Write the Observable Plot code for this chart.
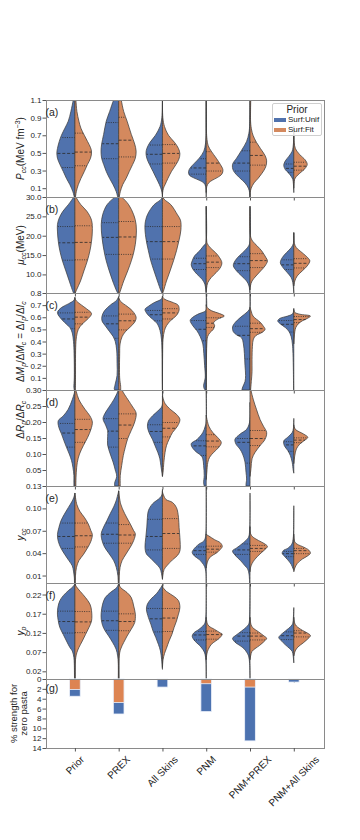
<!DOCTYPE html>
<html><head><meta charset="utf-8">
<script src="https://cdn.jsdelivr.net/npm/d3@7"></script>
<script src="https://cdn.jsdelivr.net/npm/@observablehq/plot@0.6"></script>
<style>
body{margin:0;background:#fff;}
#chart{position:relative;width:360px;height:840px;font-family:"Liberation Sans",Arial,Helvetica,sans-serif;}
#chart svg{display:block;overflow:visible;}
.legend{position:absolute;left:272px;top:103px;width:48px;height:31px;border:1px solid #cfcfcf;border-radius:2px;background:rgba(255,255,255,0.85);color:#222;}
.legend .lt{font-size:10px;line-height:10px;text-align:center;margin-top:1px;}
.legend .li{font-size:8px;line-height:10px;white-space:nowrap;display:flex;align-items:center;}
.legend .sw{display:inline-block;width:12px;height:3.5px;margin:0 2px 0 1px;}
</style></head>
<body><div id="chart"></div>
<script>
const categories = ["Prior", "PREX", "All Skins", "PNM", "PNM+PREX", "PNM+All Skins"];
const priors = ["Surf:Unif", "Surf:Fit"];

// (a) P_cc : violin half profiles [value, relative density] per category
const pccUnif = [
  [[1.12,0.06],[1.1,.08],[0.97,.2],[0.86,.33],[0.78,.5],[0.7,.67],[0.63,.78],[0.55,.87],[0.5,.9],[0.44,.87],[0.37,.75],[0.29,.58],[0.21,.42],[0.14,.25],[0.06,.1],[0,.03]],
  [[1.12,.2],[1.1,.25],[0.97,.45],[0.86,.62],[0.71,.75],[0.6,.85],[0.52,.88],[0.44,.85],[0.37,.75],[0.29,.62],[0.21,.45],[0.14,.28],[0.06,.12],[0,.05]],
  [[1.12,0],[0.9,.03],[0.8,.12],[0.7,.35],[0.62,.62],[0.55,.78],[0.5,.82],[0.44,.78],[0.37,.65],[0.29,.47],[0.21,.3],[0.14,.15],[0.08,.05],[0.03,.01],[0,0]],
  [[1.12,0],[0.7,.01],[0.6,.04],[0.52,.12],[0.44,.35],[0.38,.6],[0.33,.8],[0.29,.88],[0.25,.85],[0.22,.65],[0.19,.35],[0.16,.12],[0.12,.03],[0,0]],
  [[1.12,0],[0.8,.02],[0.72,.06],[0.63,.17],[0.53,.42],[0.44,.67],[0.37,.87],[0.3,.83],[0.22,.53],[0.16,.25],[0.1,.08],[0.05,.02],[0,0]],
  [[0.8,0],[0.6,.02],[0.52,.08],[0.46,.25],[0.41,.42],[0.36,.5],[0.31,.42],[0.27,.25],[0.23,.12],[0.2,.05],[0.15,.02],[0.05,0]]
];
const pccFit = [
  [[1.12,.04],[1.1,.05],[0.97,.1],[0.86,.2],[0.78,.3],[0.7,.47],[0.63,.63],[0.56,.78],[0.51,.83],[0.44,.78],[0.37,.63],[0.29,.47],[0.21,.3],[0.14,.17],[0.06,.07],[0,.03]],
  [[1.12,.12],[1.1,.13],[0.97,.25],[0.86,.42],[0.71,.63],[0.6,.8],[0.52,.87],[0.44,.83],[0.37,.7],[0.29,.53],[0.21,.37],[0.14,.2],[0.06,.08],[0,.03]],
  [[1.12,0],[0.9,.02],[0.8,.1],[0.7,.3],[0.62,.6],[0.55,.8],[0.49,.87],[0.43,.82],[0.37,.68],[0.29,.45],[0.21,.27],[0.14,.13],[0.1,.05],[0.05,.01],[0,0]],
  [[1.12,0],[0.75,.01],[0.65,.04],[0.58,.1],[0.52,.25],[0.44,.5],[0.37,.7],[0.31,.83],[0.26,.78],[0.22,.55],[0.19,.3],[0.16,.12],[0.12,.03],[0.05,0]],
  [[1.12,.04],[0.85,.03],[0.76,.08],[0.7,.15],[0.62,.32],[0.55,.52],[0.47,.75],[0.41,.83],[0.34,.78],[0.27,.6],[0.21,.4],[0.16,.2],[0.1,.06],[0.05,.01],[0,0]],
  [[0.8,0],[0.62,.02],[0.55,.08],[0.48,.3],[0.42,.57],[0.37,.67],[0.32,.55],[0.27,.3],[0.23,.12],[0.2,.04],[0.15,.01],[0.1,0]]
];
const pccQuartUnif = [[0.34,0.50,0.68],[0.44,0.61,0.85],[0.38,0.49,0.595],[0.265,0.335,0.44],[0.30,0.39,0.53],[0.285,0.33,0.38]];
const pccQuartFit = [[0.36,0.515,0.73],[0.46,0.65,0.91],[0.39,0.50,0.60],[0.30,0.39,0.52],[0.367,0.477,0.627],[0.31,0.355,0.40]];

// (b) mu_cc
const muUnif = [
  [[30.6,0],[29.9,.07],[28,.33],[26.3,.6],[24.6,.78],[22.9,.87],[21.2,.87],[18.6,.83],[16.1,.75],[13.5,.62],[10.9,.45],[8.3,.28],[6.6,.17],[5.2,.07],[4.5,0]],
  [[30.5,0],[29.9,.2],[28,.58],[25.4,.8],[22.9,.87],[19.5,.83],[16.1,.73],[13.5,.62],[10.9,.47],[8.3,.3],[5.7,.1],[5,.03]],
  [[30.5,0],[29.5,.05],[28,.42],[25.4,.75],[22.9,.87],[19.5,.83],[16.1,.7],[13.5,.58],[10.9,.42],[8.3,.25],[5.7,.07],[5,0]],
  [[27.5,0],[18,.02],[17.7,.08],[16.1,.33],[14.8,.58],[13.5,.7],[12.5,.75],[11.4,.67],[10.1,.47],[8.7,.2],[7.5,.07],[6,.02],[5,.01]],
  [[27.5,0],[18,.02],[16.9,.13],[15.6,.37],[14.3,.63],[13,.8],[12.2,.83],[10.9,.67],[9.6,.42],[8.3,.17],[7,.05],[5.5,.01],[5,0]],
  [[20.7,0],[18,.02],[16.9,.13],[15.6,.37],[14.3,.58],[13,.67],[11.7,.53],[10.5,.33],[9.2,.13],[7.9,.05],[6,.01],[5,0]]
];
const muFit = [
  [[30.6,0],[29.9,.06],[28,.3],[26.3,.6],[24,.83],[21.2,.87],[18.6,.83],[16.1,.75],[13.5,.62],[10.9,.45],[8.3,.28],[6.2,.1],[5,0]],
  [[30.5,0],[29.9,.17],[28,.5],[25.4,.75],[22.9,.87],[19.5,.87],[16.1,.77],[13.5,.63],[10.9,.45],[8.3,.25],[5.7,.08],[5,.03]],
  [[30.5,0],[29.5,.07],[28,.42],[25.4,.75],[24,.9],[21.5,.92],[18.9,.83],[16.1,.7],[13.5,.55],[10.9,.38],[8.3,.2],[5.7,.05],[5,0]],
  [[27.5,0],[19,.02],[18,.05],[16.9,.2],[15.6,.47],[14.3,.67],[13,.78],[11.7,.7],[10.5,.5],[9.2,.25],[7.9,.08],[6.5,.02],[5.5,0]],
  [[27.5,0],[20,.02],[18.6,.13],[17.3,.37],[16.1,.58],[14.3,.8],[13.5,.87],[12.2,.75],[10.9,.53],[9.6,.3],[8.3,.1],[7,.02],[6,0]],
  [[20.7,0],[18,.03],[16.9,.13],[15.6,.42],[14.3,.7],[13.5,.8],[12.2,.67],[10.9,.42],[9.6,.17],[8.3,.05],[7,0]]
];
const muQuartUnif = [[13.8,18.3,22.5],[15.3,19.7,23.5],[14.1,18.6,22.5],[11.4,12.9,14.3],[11.1,12.9,14.7],[11.4,12.6,13.9]];
const muQuartFit = [[13.9,18.4,22.7],[15.3,19.8,23.8],[14.1,18.6,22.5],[11.9,13.3,14.9],[11.9,13.7,15.5],[11.8,13.0,14.2]];

// (c) dM_p/dM_c
const dmUnif = [
  [[0.76,0],[0.74,.05],[0.71,.33],[0.68,.67],[0.64,.87],[0.6,.75],[0.555,.5],[0.515,.25],[0.47,.13],[0.4,.07],[0.3,.04],[0.1,.03],[0.02,.05],[0,.03]],
  [[0.77,0],[0.74,.1],[0.7,.42],[0.655,.7],[0.61,.83],[0.57,.83],[0.53,.67],[0.485,.47],[0.44,.27],[0.4,.17],[0.33,.1],[0.22,.08],[0.12,.08],[0.05,.17],[0.01,.22],[0,.2]],
  [[0.77,0],[0.75,.05],[0.72,.42],[0.69,.7],[0.665,.87],[0.625,.75],[0.585,.5],[0.545,.25],[0.49,.12],[0.42,.05],[0.3,.02],[0.1,.01],[0,0]],
  [[0.8,0],[0.66,0],[0.645,.1],[0.63,.35],[0.6,.67],[0.575,.8],[0.53,.67],[0.49,.47],[0.44,.3],[0.38,.17],[0.3,.12],[0.2,.08],[0.1,.05],[0.04,.13],[0.01,.1],[0,.05]],
  [[0.8,0],[0.68,0],[0.66,.05],[0.635,.2],[0.595,.5],[0.555,.75],[0.52,.87],[0.48,.83],[0.455,.67],[0.43,.42],[0.38,.33],[0.3,.28],[0.2,.25],[0.12,.22],[0.07,.25],[0.03,.35],[0.005,.4],[0,.4]],
  [[0.67,0],[0.63,.05],[0.61,.3],[0.59,.7],[0.57,.8],[0.545,.67],[0.515,.42],[0.485,.25],[0.44,.13],[0.38,.07],[0.3,.04],[0.15,.02],[0,.01]]
];
const dmFit = [
  [[0.76,0],[0.74,.05],[0.71,.25],[0.67,.58],[0.63,.83],[0.59,.67],[0.545,.37],[0.5,.17],[0.44,.08],[0.35,.04],[0.1,.03],[0,.02]],
  [[0.76,0],[0.73,.1],[0.69,.42],[0.65,.7],[0.6,.87],[0.56,.8],[0.52,.58],[0.48,.33],[0.44,.17],[0.38,.07],[0.3,.05],[0.1,.05],[0.03,.1],[0,.1]],
  [[0.77,0],[0.75,.1],[0.72,.55],[0.7,.78],[0.66,.83],[0.615,.7],[0.575,.42],[0.53,.2],[0.49,.1],[0.42,.03],[0.3,.01],[0,0]],
  [[0.7,0],[0.68,.05],[0.655,.25],[0.63,.67],[0.61,.9],[0.585,.58],[0.555,.37],[0.53,.42],[0.5,.35],[0.47,.17],[0.44,.07],[0.38,.03],[0.2,.01],[0,0]],
  [[0.68,0],[0.655,.05],[0.61,.15],[0.56,.5],[0.53,.65],[0.5,.75],[0.475,.6],[0.45,.3],[0.42,.17],[0.36,.12],[0.25,.1],[0.15,.1],[0.08,.07],[0,.03]],
  [[0.66,0],[0.64,.05],[0.625,.3],[0.61,.83],[0.59,.67],[0.57,.42],[0.545,.22],[0.515,.1],[0.48,.05],[0.43,.02],[0.38,0]]
];
const dmQuartUnif = [[0.51,0.59,0.64],[0.43,0.55,0.615],[0.575,0.625,0.66],[0.41,0.505,0.577],[0.26,0.455,0.53],[0.482,0.546,0.577]];
const dmQuartFit = [[0.55,0.605,0.645],[0.50,0.575,0.63],[0.59,0.64,0.675],[0.52,0.555,0.60],[0.48,0.51,0.555],[0.56,0.585,0.61]];

// (d) dR_p/dR_c
const drUnif = [
  [[0.3,0],[0.29,.03],[0.27,.13],[0.24,.33],[0.219,.58],[0.204,.83],[0.183,.8],[0.163,.67],[0.142,.55],[0.121,.42],[0.1,.28],[0.08,.17],[0.059,.1],[0.033,.05],[0.012,.05],[0,.05]],
  [[0.31,0],[0.295,.05],[0.269,.25],[0.245,.5],[0.225,.7],[0.21,.78],[0.19,.65],[0.173,.55],[0.155,.55],[0.128,.55],[0.1,.42],[0.075,.28],[0.05,.17],[0.03,.1],[0.01,.2],[0,.2]],
  [[0.3,0],[0.25,.02],[0.238,.17],[0.219,.5],[0.203,.7],[0.187,.75],[0.167,.67],[0.146,.5],[0.126,.37],[0.105,.23],[0.085,.13],[0.064,.08],[0.043,.03],[0.03,0]],
  [[0.3,0],[0.2,0],[0.187,.05],[0.167,.17],[0.146,.45],[0.132,.75],[0.118,.67],[0.105,.47],[0.095,.25],[0.085,.17],[0.064,.13],[0.033,.1],[0.01,.13],[0,.1]],
  [[0.26,0],[0.2,.02],[0.177,.17],[0.162,.5],[0.146,.75],[0.131,.7],[0.115,.5],[0.1,.37],[0.075,.25],[0.043,.2],[0.022,.17],[0.005,.2],[0,.2]],
  [[0.21,0],[0.18,.02],[0.167,.08],[0.151,.33],[0.141,.5],[0.126,.47],[0.111,.3],[0.095,.17],[0.074,.08],[0.05,.03],[0.04,0]]
];
const drFit = [
  [[0.31,.02],[0.295,.07],[0.27,.2],[0.24,.5],[0.219,.75],[0.2,.87],[0.177,.8],[0.151,.63],[0.126,.42],[0.1,.23],[0.074,.12],[0.043,.07],[0.01,.05],[0,.05]],
  [[0.31,.15],[0.3,.17],[0.269,.47],[0.247,.7],[0.228,.87],[0.2,.8],[0.174,.63],[0.148,.45],[0.121,.33],[0.095,.23],[0.064,.15],[0.033,.08],[0,.08]],
  [[0.28,0],[0.258,.13],[0.238,.42],[0.224,.7],[0.208,.87],[0.187,.75],[0.167,.5],[0.146,.33],[0.126,.2],[0.105,.13],[0.074,.07],[0.043,.03],[0.03,0]],
  [[0.22,0],[0.187,.13],[0.167,.33],[0.151,.58],[0.136,.75],[0.121,.63],[0.105,.37],[0.09,.17],[0.074,.08],[0.043,.03],[0.02,0]],
  [[0.31,.05],[0.3,.05],[0.269,.17],[0.238,.33],[0.208,.5],[0.187,.67],[0.167,.83],[0.146,.75],[0.126,.5],[0.105,.25],[0.085,.1],[0.055,.05],[0.03,0]],
  [[0.19,0],[0.177,.08],[0.162,.5],[0.152,.7],[0.141,.5],[0.131,.3],[0.116,.13],[0.095,.05],[0.07,0]]
];
const drQuartUnif = [[0.123,0.167,0.197],[0.123,0.173,0.212],[0.138,0.172,0.193],[0.097,0.127,0.143],[0.073,0.138,0.15],[0.11,0.13,0.14]];
const drQuartFit = [[0.138,0.178,0.21],[0.15,0.192,0.227],[0.155,0.182,0.20],[0.124,0.142,0.162],[0.128,0.15,0.175],[0.137,0.145,0.152]];

// (e) y_cc
const yccUnif = [
  [[0.12,0],[0.115,.05],[0.11,.13],[0.101,.33],[0.092,.53],[0.083,.7],[0.074,.8],[0.065,.87],[0.056,.83],[0.047,.7],[0.038,.5],[0.03,.3],[0.023,.13],[0.016,.07],[0.008,.03],[0,.02]],
  [[0.123,0],[0.11,.13],[0.102,.25],[0.093,.42],[0.084,.58],[0.075,.75],[0.066,.87],[0.057,.83],[0.048,.7],[0.039,.47],[0.03,.25],[0.021,.12],[0.01,.04],[0,.02]],
  [[0.125,0],[0.118,.03],[0.114,.13],[0.106,.5],[0.097,.7],[0.088,.75],[0.075,.78],[0.061,.83],[0.048,.87],[0.039,.8],[0.033,.58],[0.026,.33],[0.02,.13],[0.013,.05],[0.005,0]],
  [[0.13,0],[0.07,.01],[0.06,.05],[0.056,.13],[0.052,.37],[0.045,.63],[0.041,.7],[0.036,.58],[0.032,.37],[0.027,.2],[0.022,.08],[0.015,.02],[0,0]],
  [[0.12,0],[0.07,.02],[0.061,.08],[0.054,.33],[0.047,.67],[0.043,.87],[0.036,.7],[0.03,.47],[0.023,.25],[0.019,.12],[0.012,.05],[0,.02]],
  [[0.103,0],[0.07,.01],[0.06,.03],[0.052,.1],[0.046,.33],[0.044,.5],[0.04,.58],[0.036,.47],[0.031,.3],[0.025,.13],[0.02,.05],[0.017,0]]
];
const yccFit = [
  [[0.12,0],[0.105,.1],[0.096,.25],[0.088,.47],[0.079,.67],[0.07,.8],[0.065,.87],[0.056,.8],[0.047,.63],[0.038,.42],[0.03,.2],[0.021,.08],[0.01,.03],[0,.02]],
  [[0.123,0],[0.106,.1],[0.093,.3],[0.079,.58],[0.07,.75],[0.066,.83],[0.057,.75],[0.048,.58],[0.039,.37],[0.03,.17],[0.021,.07],[0.01,.03],[0,.02]],
  [[0.122,0],[0.118,.05],[0.112,.17],[0.108,.5],[0.101,.7],[0.088,.8],[0.074,.83],[0.061,.87],[0.043,.87],[0.037,.75],[0.031,.5],[0.024,.25],[0.018,.08],[0.01,.02],[0.005,0]],
  [[0.065,0],[0.063,.13],[0.058,.42],[0.054,.7],[0.049,.8],[0.045,.7],[0.04,.5],[0.036,.25],[0.031,.1],[0.025,.03],[0.02,0]],
  [[0.075,0],[0.066,.03],[0.062,.13],[0.057,.42],[0.053,.7],[0.049,.87],[0.045,.75],[0.039,.5],[0.032,.25],[0.026,.1],[0.02,.02],[0.015,0]],
  [[0.065,0],[0.055,.05],[0.052,.17],[0.048,.5],[0.044,.75],[0.04,.83],[0.036,.67],[0.032,.42],[0.026,.17],[0.02,.05],[0.015,0]]
];
const yccQuartUnif = [[0.047,0.063,0.081],[0.054,0.066,0.081],[0.045,0.063,0.086],[0.039,0.044,0.049],[0.039,0.045,0.053],[0.036,0.04,0.043]];
const yccQuartFit = [[0.049,0.064,0.081],[0.054,0.065,0.079],[0.047,0.067,0.087],[0.042,0.046,0.05],[0.043,0.047,0.051],[0.04,0.044,0.047]];

// (f) y_p
const ypUnif = [
  [[0.248,0],[0.24,.1],[0.23,.33],[0.217,.58],[0.204,.75],[0.186,.85],[0.169,.87],[0.152,.83],[0.134,.75],[0.116,.58],[0.099,.42],[0.082,.25],[0.073,.13],[0.056,.05],[0.04,.03],[0,.02]],
  [[0.248,0],[0.238,.1],[0.225,.42],[0.212,.67],[0.195,.8],[0.173,.87],[0.156,.87],[0.139,.8],[0.125,.67],[0.112,.5],[0.095,.3],[0.078,.13],[0.06,.05],[0.04,.02],[0,.02]],
  [[0.245,0],[0.235,.12],[0.222,.3],[0.208,.58],[0.195,.75],[0.182,.8],[0.16,.7],[0.143,.58],[0.125,.47],[0.108,.33],[0.09,.2],[0.073,.1],[0.05,.04],[0.03,.01],[0.025,0]],
  [[0.25,0],[0.16,.02],[0.145,.07],[0.138,.17],[0.129,.37],[0.12,.62],[0.112,.7],[0.103,.63],[0.094,.47],[0.086,.3],[0.077,.17],[0.068,.08],[0.05,.02],[0,0]],
  [[0.25,0],[0.16,.02],[0.145,.05],[0.138,.13],[0.125,.42],[0.114,.7],[0.106,.87],[0.096,.75],[0.087,.5],[0.079,.3],[0.07,.17],[0.06,.07],[0.04,.02],[0,0]],
  [[0.185,0],[0.16,.02],[0.145,.05],[0.138,.13],[0.125,.42],[0.114,.67],[0.108,.75],[0.1,.63],[0.089,.42],[0.079,.2],[0.072,.08],[0.06,.03],[0.042,0]]
];
const ypFit = [
  [[0.248,0],[0.24,.08],[0.228,.27],[0.212,.53],[0.195,.75],[0.178,.83],[0.151,.83],[0.134,.7],[0.116,.53],[0.099,.37],[0.082,.2],[0.069,.1],[0.05,.03],[0,.02]],
  [[0.248,0],[0.238,.1],[0.225,.42],[0.212,.63],[0.19,.75],[0.169,.83],[0.147,.8],[0.13,.63],[0.112,.42],[0.095,.25],[0.078,.1],[0.06,.03],[0,.02]],
  [[0.24,0],[0.228,.2],[0.215,.58],[0.204,.8],[0.186,.87],[0.169,.8],[0.151,.7],[0.134,.58],[0.116,.47],[0.099,.33],[0.08,.2],[0.066,.1],[0.05,.03],[0.03,0]],
  [[0.16,0],[0.145,.05],[0.138,.13],[0.129,.42],[0.12,.7],[0.117,.8],[0.107,.67],[0.099,.47],[0.09,.25],[0.077,.1],[0.065,.03],[0.05,0]],
  [[0.16,0],[0.142,.05],[0.134,.13],[0.123,.42],[0.112,.7],[0.106,.83],[0.096,.67],[0.087,.47],[0.079,.25],[0.072,.1],[0.06,.03],[0.05,0]],
  [[0.16,0],[0.145,.05],[0.138,.13],[0.127,.42],[0.119,.7],[0.113,.83],[0.103,.67],[0.094,.47],[0.083,.2],[0.073,.07],[0.06,0]]
];
const ypQuartUnif = [[0.121,0.151,0.178],[0.128,0.153,0.178],[0.124,0.158,0.185],[0.103,0.116,0.125],[0.10,0.113,0.122],[0.104,0.114,0.124]];
const ypQuartFit = [[0.122,0.15,0.177],[0.127,0.151,0.171],[0.125,0.16,0.185],[0.105,0.117,0.126],[0.103,0.113,0.121],[0.111,0.121,0.127]];

// (g) % strength for zero pasta
const zeroPastaUnif = [3.5, 7.1, 1.64, 6.62, 12.56, 0.62];
const zeroPastaFit = [2.12, 4.78, 0, 0.96, 1.64, 0];

// tick values
const pccTicks = [0.1, 0.3, 0.5, 0.7, 0.9, 1.1];
const muTicks = [10, 15, 20, 25, 30];
const dmTicks = [0.1, 0.2, 0.3, 0.4, 0.5, 0.6, 0.7, 0.8];
const drTicks = [0.05, 0.10, 0.15, 0.20, 0.25, 0.30];
const yccTicks = [0.01, 0.04, 0.07, 0.10, 0.13];
const ypTicks = [0.02, 0.07, 0.12, 0.17, 0.22];
const zeroTicks = [0, 2, 4, 6, 8, 10, 12, 14];

// ---- styling constants ----
const FONT = '"Liberation Sans", Arial, Helvetica, sans-serif';
const violinColors = ["#5072ad", "#d4895e"];
const barColors = ["#4c72b0", "#dd8452"];
const HALF = 0.458;     // x-units per unit density
const BAR_HALF = 0.122; // half bar width in x-units

function interp(prof, q) {
  for (let j = 0; j < prof.length - 1; j++) {
    const [v0, d0] = prof[j], [v1, d1] = prof[j + 1];
    if (q <= v0 && q >= v1) {
      const t = v0 === v1 ? 0 : (v0 - q) / (v0 - v1);
      return d0 + t * (d1 - d0);
    }
  }
  return 0;
}

function violinMarks(unif, fit, qUnif, qFit) {
  const marks = [];
  [[unif, qUnif, -1, 0], [fit, qFit, 1, 1]].forEach(([profs, quarts, sign, s]) => {
    const rows = profs.flatMap((p, i) => p.map(([v, d]) => ({c: i, v, d, key: s + "-" + i, prior: priors[s]})));
    marks.push(Plot.areaX(rows, {
      y: "v", x1: "c", x2: r => r.c + sign * r.d * HALF, z: "key", fill: "prior",
      stroke: "#3d3d3d", strokeWidth: 0.75, curve: "catmull-rom", clip: true
    }));
    const qrows = quarts.flatMap((q, i) => q.map((v, k) => ({c: i, v, w: interp(profs[i], v), med: k === 1})));
    marks.push(Plot.ruleY(qrows.filter(r => r.med), {
      y: "v", x1: "c", x2: r => r.c + sign * r.w * HALF * 0.97,
      stroke: "#2a2a2a", strokeWidth: 0.8, strokeDasharray: "3,1.8", clip: true
    }));
    marks.push(Plot.ruleY(qrows.filter(r => !r.med), {
      y: "v", x1: "c", x2: r => r.c + sign * r.w * HALF * 0.97,
      stroke: "#2a2a2a", strokeWidth: 0.8, strokeDasharray: "1,1.3", clip: true
    }));
  });
  return marks;
}

function panel({h, mt = 0, mb = 0, domain, ticks, fmt, reverse = false, colors = violinColors, marks, letter}) {
  return Plot.plot({
    width: 360, height: h + mt + mb,
    marginTop: mt, marginBottom: mb, marginLeft: 46, marginRight: 36,
    x: {domain: [-0.66, 5.69], axis: null},
    y: {domain, reverse, axis: null},
    color: {domain: priors, range: colors},
    style: {fontFamily: FONT, color: "#262626", overflow: "visible", background: "transparent"},
    marks: [
      ...marks,
      Plot.frame({stroke: "#8a8a8a", strokeWidth: 1}),
      Plot.axisY({ticks, tickFormat: d3.format(fmt), tickSize: 3.5, tickPadding: 1.5, fontSize: 8, stroke: "#555", label: null}),
      Plot.axisX({ticks: d3.range(categories.length), tickSize: 3.5, tickFormat: () => "", stroke: "#555", label: null}),
      Plot.text([letter], {text: d => d, frameAnchor: "top-left", dx: -1, dy: 0.13 * h, textAnchor: "start", lineAnchor: "middle", fontSize: 10.5})
    ]
  });
}

const chart = document.getElementById("chart");
const specs = [
  {h: 97, mt: 100, domain: [0, 1.1], ticks: pccTicks, fmt: ".1f", marks: violinMarks(pccUnif, pccFit, pccQuartUnif, pccQuartFit), letter: "(a)",
   title: [["P", "it"], ["cc", "sub it"], "(MeV fm", ["\u22123", "sup"], ")"]},
  {h: 96, domain: [5.2, 30], ticks: muTicks, fmt: ".1f", marks: violinMarks(muUnif, muFit, muQuartUnif, muQuartFit), letter: "(b)",
   title: [["\u03bc", "it"], ["cc", "sub it"], "(MeV)"]},
  {h: 97, domain: [0, 0.8], ticks: dmTicks, fmt: ".1f", marks: violinMarks(dmUnif, dmFit, dmQuartUnif, dmQuartFit), letter: "(c)",
   title: ["\u0394", ["M", "it"], ["p", "sub it"], "/\u0394", ["M", "it"], ["c", "sub it"], " = \u0394", ["I", "it"], ["p", "sub it"], "/\u0394", ["I", "it"], ["c", "sub it"]]},
  {h: 96, domain: [0, 0.3], ticks: drTicks, fmt: ".2f", marks: violinMarks(drUnif, drFit, drQuartUnif, drQuartFit), letter: "(d)",
   title: ["\u0394", ["R", "it"], ["p", "sub it"], "/\u0394", ["R", "it"], ["c", "sub it"]], titleFrac: 0.31},
  {h: 97, domain: [0, 0.13], ticks: yccTicks, fmt: ".2f", marks: violinMarks(yccUnif, yccFit, yccQuartUnif, yccQuartFit), letter: "(e)",
   title: [["y", "it"], ["cc", "sub it"]]},
  {h: 96, domain: [0, 0.25], ticks: ypTicks, fmt: ".2f", marks: violinMarks(ypUnif, ypFit, ypQuartUnif, ypQuartFit), letter: "(f)",
   title: [["y", "it"], ["p", "sub it"]]}
];

const barRows = (vals, s) => vals.map((v, i) => ({c: i, v, prior: priors[s]})).filter(r => r.v > 0);
const barMarks = [0, 1].map(s => Plot.rect(barRows(s === 0 ? zeroPastaUnif : zeroPastaFit, s), {
  x1: r => r.c - BAR_HALF, x2: r => r.c + BAR_HALF, y1: () => 0, y2: "v",
  fill: "prior", stroke: "#eef2fb", strokeWidth: 0.8
}));
specs.push({h: 69, mb: 92, domain: [0, 14], reverse: true, ticks: zeroTicks, fmt: "d", colors: barColors, marks: barMarks, letter: "(g)", title: null});

function addTitle(svg, parts, cx, cy, size = 10) {
  const t = d3.select(svg).append("text")
    .attr("transform", `translate(${cx},${cy}) rotate(-90)`)
    .attr("text-anchor", "middle").attr("font-size", size)
    .attr("font-family", FONT).attr("fill", "#222");
  let shift = 0;
  parts.forEach(p => {
    const [str, kind] = typeof p === "string" ? [p, ""] : p;
    const target = kind.includes("sub") ? 2.1 : kind.includes("sup") ? -3.8 : 0;
    const ts = t.append("tspan").text(str).attr("dy", target - shift);
    shift = target;
    if (target !== 0) ts.attr("font-size", size * 0.7);
    if (kind.includes("it")) ts.attr("font-style", "italic");
  });
}

const svgs = specs.map(sp => {
  const svg = panel(sp);
  chart.appendChild(svg);
  const mt = sp.mt || 0;
  if (sp.title) addTitle(svg, sp.title, 23.5, mt + sp.h * (sp.titleFrac || 0.5));
  return svg;
});

// (g) two-line title
const gsvg = svgs[6];
addTitle(gsvg, ["% strength for"], 17, 69 / 2, 9.5);
addTitle(gsvg, ["zero pasta"], 27, 69 / 2, 9.5);

// rotated category labels
const xs = gsvg.scale("x");
categories.forEach((name, i) => {
  const t = d3.select(gsvg).append("text")
    .attr("font-size", 10).attr("font-family", FONT).attr("fill", "#222")
    .attr("text-anchor", "middle").attr("dominant-baseline", "central").text(name);
  const L = t.node().getComputedTextLength();
  const cx = xs.apply(i);
  const cy = 69 + 7 + (L + 7.5) * Math.SQRT1_2 / 2;
  t.attr("transform", `translate(${cx},${cy}) rotate(-45)`);
});

// legend
const leg = document.createElement("div");
leg.className = "legend";
leg.innerHTML = `<div class="lt">Prior</div>` + priors.map((p, i) =>
  `<div class="li"><span class="sw" style="background:${violinColors[i]}"></span>${p}</div>`).join("");
chart.appendChild(leg);
</script>
</body></html>
